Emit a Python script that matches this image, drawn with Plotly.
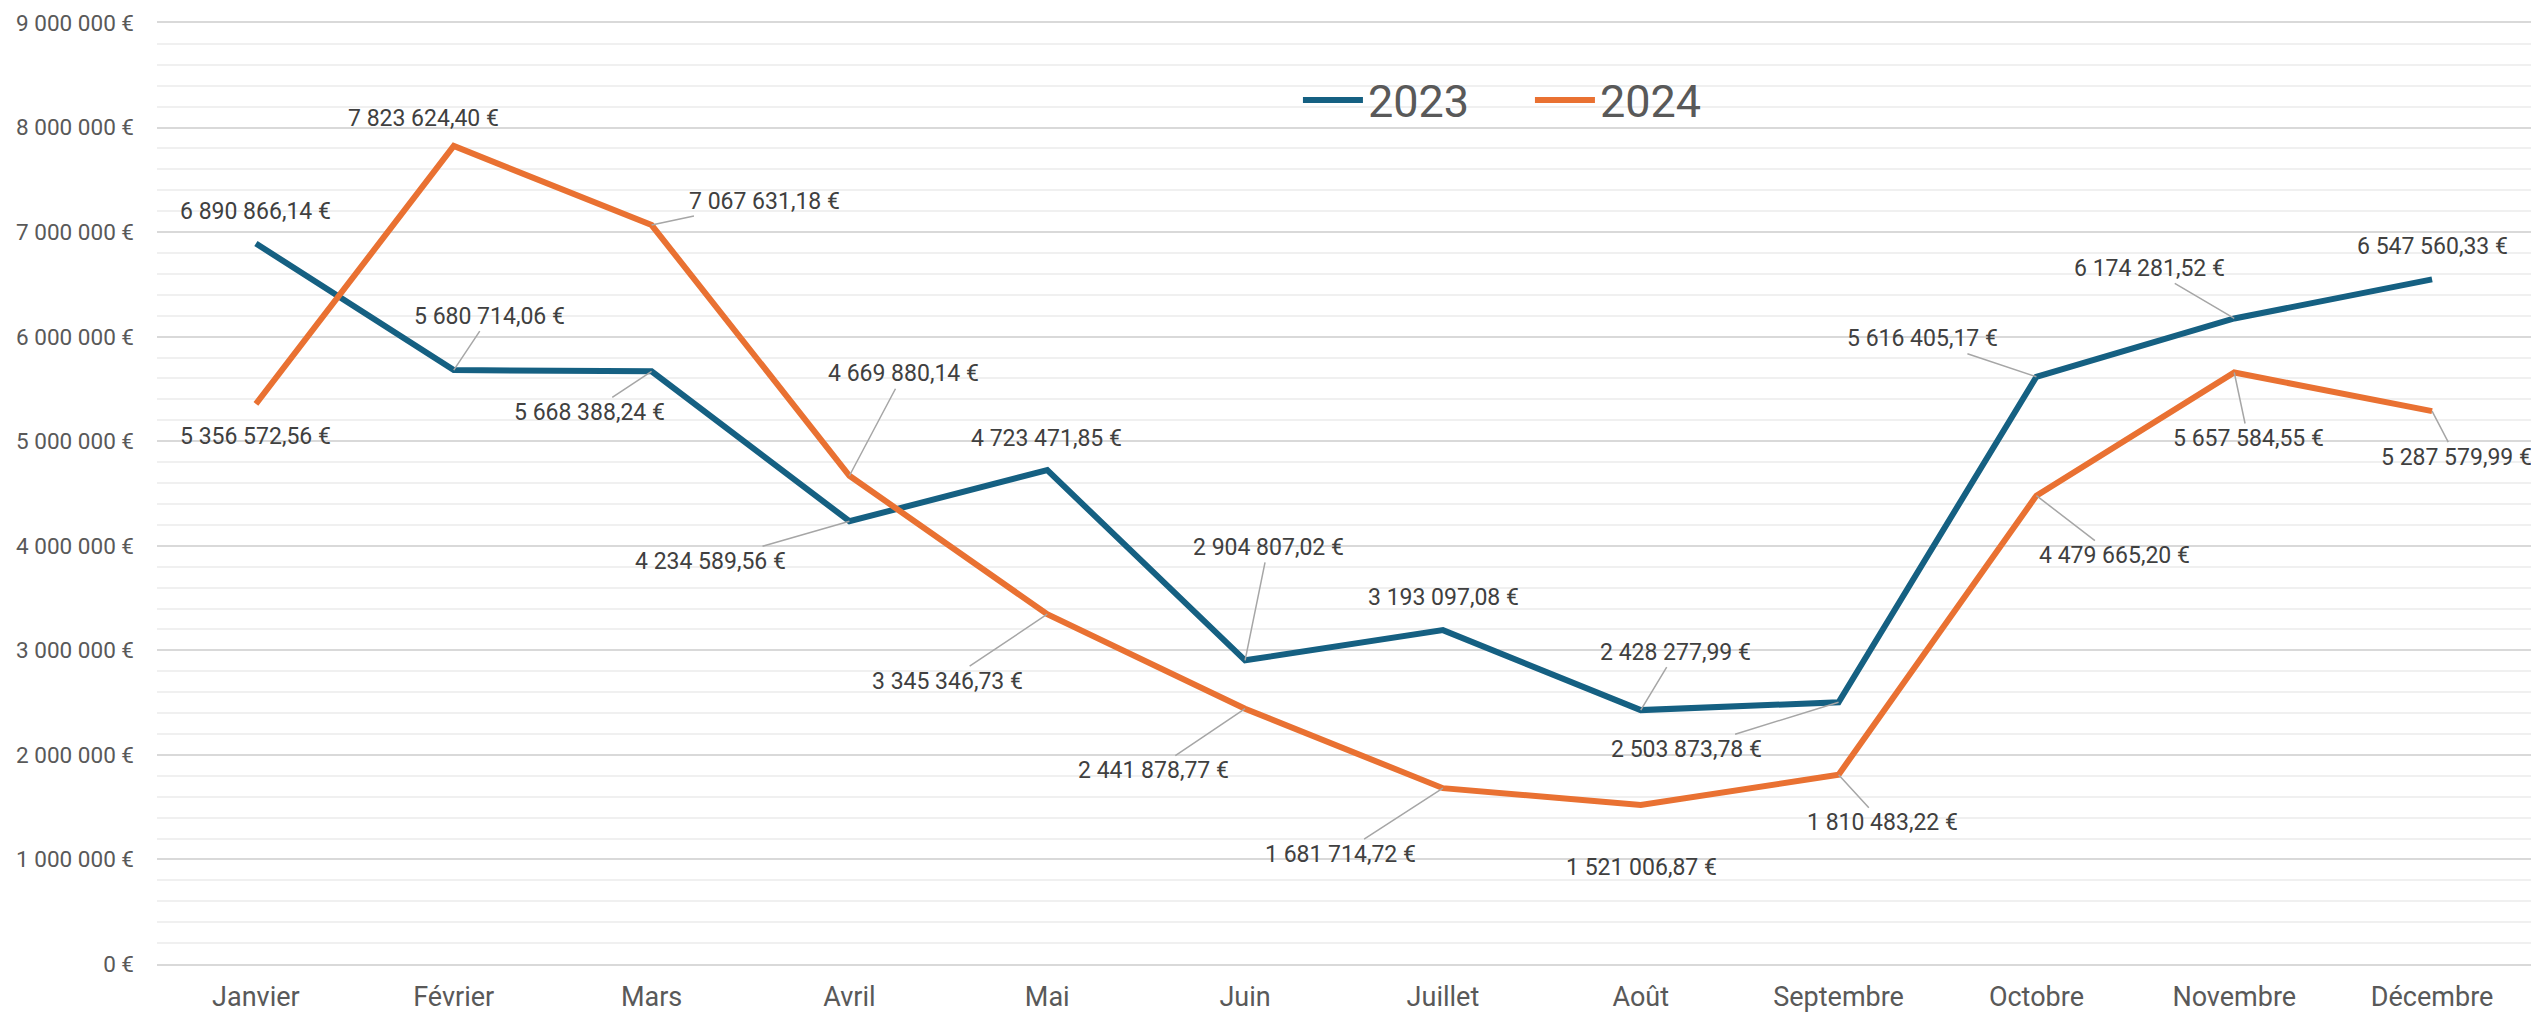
import plotly.graph_objects as go

months = ["Janvier", "Février", "Mars", "Avril", "Mai", "Juin", "Juillet",
          "Août", "Septembre", "Octobre", "Novembre", "Décembre"]
values_2023 = [6890866.14, 5680714.06, 5668388.24, 4234589.56, 4723471.85, 2904807.02,
               3193097.08, 2428277.99, 2503873.78, 5616405.17, 6174281.52, 6547560.33]
values_2024 = [5356572.56, 7823624.40, 7067631.18, 4669880.14, 3345346.73, 2441878.77,
               1681714.72, 1521006.87, 1810483.22, 4479665.20, 5657584.55, 5287579.99]
y_ticks = [0, 1000000, 2000000, 3000000, 4000000, 5000000, 6000000, 7000000, 8000000, 9000000]

COLOR_2023 = "#156082"
COLOR_2024 = "#E97132"
FONT = "Roboto"

# label placement (pixel offsets from the point, leader flag)
offsets_2023 = [(0, -32, False), (36, -54, True), (-62, 41, True), (-139, 40, True),
                (-1, -32, False), (23, -113, True), (1, -33, False), (35, -58, True),
                (-152, 47, True), (-114, -38, True), (-85, -50, True), (0, -33, False)]
offsets_2024 = [(0, 33, False), (-30, -28, False), (113, -24, True), (54, -102, True),
                (-100, 67, True), (-92, 62, True), (-102, 66, True), (1, 63, True),
                (44, 48, True), (78, 60, True), (14, 66, True), (24, 46, True)]


def fr_money(v, dec=2):
    s = f"{v:,.{dec}f}"
    s = s.replace(",", "\u00a0").replace(".", ",")
    return s + "\u00a0€"


fig = go.Figure()
fig.add_trace(go.Scatter(x=months, y=values_2023, mode="lines", name="2023",
                         line=dict(color=COLOR_2023, width=6)))
fig.add_trace(go.Scatter(x=months, y=values_2024, mode="lines", name="2024",
                         line=dict(color=COLOR_2024, width=6)))

annotations = []
for vals, offs in ((values_2023, offsets_2023), (values_2024, offsets_2024)):
    for m, v, (dx, dy, leader) in zip(months, vals, offs):
        a = dict(x=m, y=v, xref="x", yref="y", text=fr_money(v),
                 font=dict(family=FONT, size=23, color="#404040"))
        if leader:
            a.update(showarrow=True, ax=dx, ay=dy, arrowhead=0, arrowwidth=1.5,
                     arrowcolor="#a6a6a6", standoff=0, startstandoff=0)
        else:
            a.update(showarrow=False, xshift=dx, yshift=-dy)
        annotations.append(a)

# the page body has an 8px margin, so the figure is sized to fit the window
fig.update_layout(
    width=2531, height=1008,
    margin=dict(l=149, r=8, t=15, b=52, autoexpand=False),
    paper_bgcolor="white", plot_bgcolor="white",
    separators=", ",
    font=dict(family=FONT, color="#595959"),
    showlegend=True,
    legend=dict(orientation="h", x=0.4806, y=0.918, xanchor="left", yanchor="middle",
                font=dict(family=FONT, size=45, color="#595959"),
                itemwidth=60, entrywidth=157, entrywidthmode="pixels",
                bgcolor="rgba(0,0,0,0)"),
    annotations=annotations,
    xaxis=dict(type="category", range=[-0.5, 11.5], showgrid=False, zeroline=False,
               showline=True, mirror=True, linecolor="#d9d9d9", linewidth=1.5,
               ticks="", automargin=False,
               tickfont=dict(family=FONT, size=27, color="#595959"),
               ticklabelstandoff=8),
    yaxis=dict(range=[0, 9000000], tickvals=y_ticks, automargin=False,
               ticktext=[fr_money(t, 0) for t in y_ticks],
               showgrid=True, gridcolor="#d9d9d9", gridwidth=1.5, zeroline=False,
               showline=False, ticks="", tickfont=dict(family=FONT, size=22.5, color="#595959"),
               ticklabelstandoff=22,
               minor=dict(dtick=200000, tick0=0, showgrid=True, gridcolor="#f0f0f0", gridwidth=1.5)),
)

fig.write_html("out.html")
